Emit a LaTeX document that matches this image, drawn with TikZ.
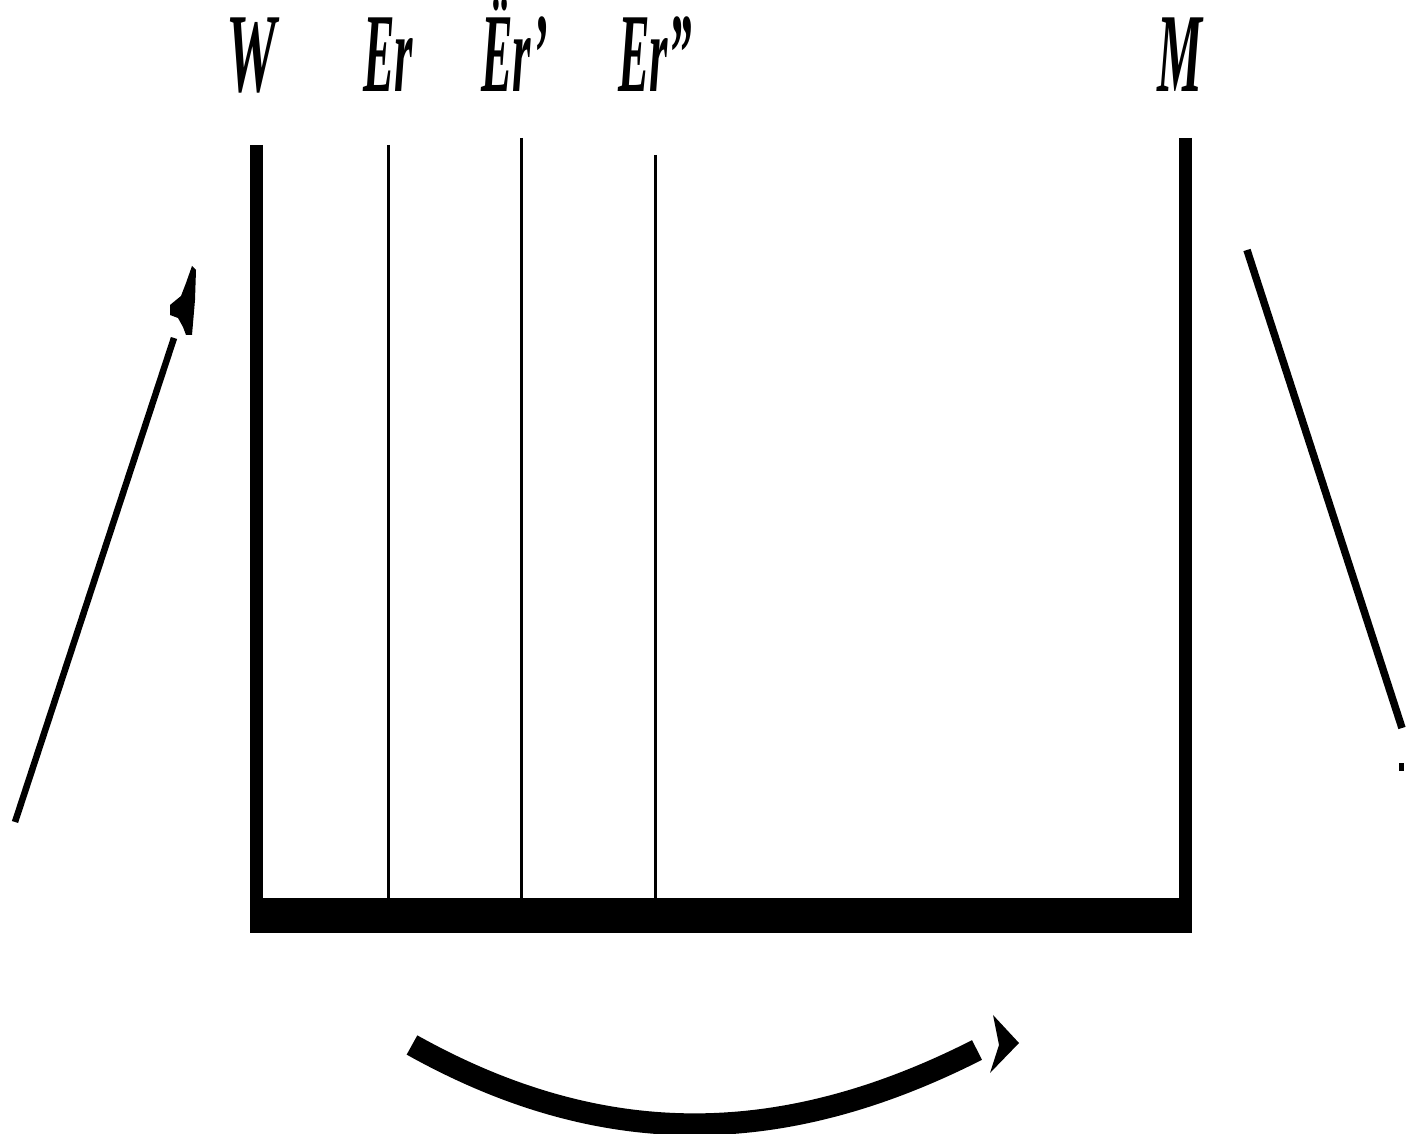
\documentclass[tikz,border=0pt]{standalone}
\usepackage{graphicx}
\usepackage{fontspec}
\setmainfont{Liberation Serif}
\begin{document}
\begin{tikzpicture}[x=0.01cm,y=-0.01cm,
  lbl/.style={anchor=base, inner sep=0pt, font=\fontsize{32}{32}\selectfont\bfseries\itshape},
  thickbar/.style={line width=0.13cm},
  thinline/.style={line width=0.03cm},
  pointer/.style={line width=0.065cm},
  swing/.style={line width=0.22cm}]
\useasboundingbox (0,0) rectangle (1411,1134);
% labels
\node[lbl] (W)   at (252,92)  {\scalebox{0.5}[1]{W}};
\node[lbl] (Er)  at (388,92)  {\scalebox{0.42}[1]{Er}};
\node[lbl] (Er1) at (515,92)  {\scalebox{0.42}[1]{Ër'}};
\node[lbl] (Er2) at (655,92)  {\scalebox{0.42}[1]{Er''}};
\node[lbl] (M)   at (1180,92) {\scalebox{0.45}[1]{M}};
% base bar
\node[fill=black, inner sep=0pt, minimum width=9.42cm, minimum height=0.35cm] (base) at (721,915.5) {};
% line tops
\coordinate (tW)  at (256.5,145);
\coordinate (tEr) at (388,145);
\coordinate (tE1) at (521,138);
\coordinate (tE2) at (655,155);
\coordinate (tM)  at (1185.5,138);
\draw[thickbar] (tW) -- (tW |- base.center);
\draw[thickbar] (tM) -- (tM |- base.center);
\draw[thinline] (tEr) -- (tEr |- base.center);
\draw[thinline] (tE1) -- (tE1 |- base.center);
\draw[thinline] (tE2) -- (tE2 |- base.center);
% left arrow
\coordinate (la0) at (15,822);
\coordinate (la1) at (174,338);
\draw[pointer] (la0) -- (la1);
\fill (192,266) -- (196,270) -- (195,300) -- (192,335) -- (186,335) -- (183,327) -- (178,318) -- (170,315) -- (170,305) -- (181,296) -- (186,283) -- cycle;
% right line
\coordinate (ra0) at (1247,250);
\coordinate (ra1) at (1402,728);
\draw[line width=0.075cm] (ra0) -- (ra1);
\fill (1399,763) rectangle (1404,771);
% bottom swing arrow
\coordinate (s0) at (412,1045);
\coordinate (s1) at (977,1050);
\draw[swing] (s0) .. controls (600,1150) and (780,1150) .. (s1);
\fill (993,1015) -- (1019,1043) -- (990,1073) -- (999,1045) -- cycle;
\end{tikzpicture}
\end{document}
